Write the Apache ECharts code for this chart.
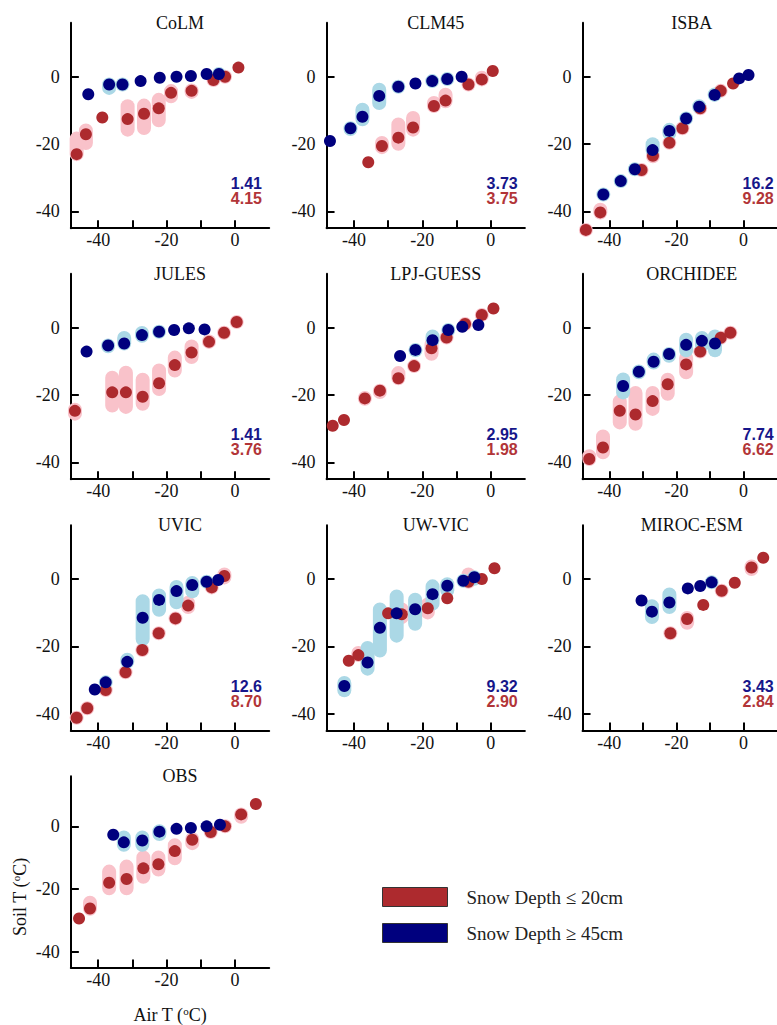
<!DOCTYPE html>
<html>
<head>
<meta charset="utf-8">
<script src="https://cdn.jsdelivr.net/npm/echarts@6/dist/echarts.min.js"></script>
<style>
    html, body { margin: 0; padding: 0; background: #fff; }
    #chart { width: 777px; height: 1025px; }
</style>
</head>
<body>
<div id="chart"></div>
<script>
const panelNames = ['CoLM', 'CLM45', 'ISBA', 'JULES', 'LPJ-GUESS', 'ORCHIDEE', 'UVIC', 'UW-VIC', 'MIROC-ESM', 'OBS']
const deepScore = [1.41, 3.73, 16.2, 1.41, 2.95, 7.74, 12.6, 9.32, 3.43]
const shallowScore = [4.15, 3.75, 9.28, 3.76, 1.98, 6.62, 8.70, 2.90, 2.84]
const xTicks = [-40, -30, -20, -10, 0]
const xLabels = [-40, -20, 0]
const yTicks = [-40, -20, 0]
const seriesNames = ['Snow Depth ≤ 20cm', 'Snow Depth ≥ 45cm']

// [air T, soil T, spread low, spread high] -- two values only when there is no spread drawn
const colmShallow = [[-46.3, -23.0, -24.8, -16.3], [-43.6, -17.1, -21.8, -13.9], [-38.8, -12.1], [-31.4, -12.6, -17.8, -6.7], [-26.6, -11.0, -17.3, -6.5], [-22.3, -9.4, -15.0, -4.8], [-18.7, -4.8, -7.9, -2.2], [-12.7, -4.2, -6.6, -2.0], [-6.3, -1.0, -1.0, -1.0], [-2.9, 0.0, 0.0, 0.0], [1.0, 2.7]]
const colmDeep = [[-42.9, -5.2], [-36.8, -2.3, -5.4, -1.0], [-32.9, -2.3, -4.0, -0.5], [-27.6, -1.3], [-22.0, -0.3], [-17.1, 0.0], [-12.9, 0.2], [-8.3, 0.8], [-4.7, 0.8, 0.8, 0.8]]

const clm45Shallow = [[-35.8, -25.4], [-31.8, -20.6, -23.0, -17.6], [-27.0, -18.1, -22.0, -12.1], [-22.7, -15.1, -17.8, -10.2], [-16.6, -8.7, -10.6, -5.7], [-13.2, -7.1, -9.4, -3.3], [-6.5, -2.3, -2.3, -2.3], [-2.6, -0.8, -2.7, 1.8], [0.6, 1.7]]
const clm45Deep = [[-47.0, -19.1], [-41.0, -15.3, -17.6, -13.7], [-37.5, -11.9, -14.7, -7.7], [-32.6, -5.7, -9.9, -1.8], [-27.0, -3.0, -3.0, -3.0], [-22.0, -2.0], [-17.1, -1.3, -1.3, -1.3], [-12.7, -0.7, -0.7, -0.7], [-8.5, 0.0]]

const isbaShallow = [[-47.0, -45.5, -45.5, -45.5], [-42.7, -40.3, -42.4, -37.4], [-30.4, -27.7, -27.7, -27.7], [-27.0, -23.5, -25.7, -21.5], [-22.1, -19.6, -19.6, -19.6], [-18.2, -15.3, -15.3, -15.3], [-12.9, -9.4, -9.4, -9.4], [-6.8, -4.2, -4.2, -4.2], [-3.1, -2.0]]
const isbaDeep = [[-41.8, -35.0, -37.1, -33.0], [-36.6, -31.0, -31.0, -31.0], [-32.4, -27.5, -27.5, -27.5], [-27.1, -21.8, -24.0, -18.0], [-22.1, -16.1, -18.8, -13.7], [-17.1, -12.4, -12.4, -12.4], [-13.2, -8.9, -11.1, -6.7], [-8.6, -5.4, -7.1, -3.2], [-1.3, -0.5], [1.5, 0.5]]

const julesShallow = [[-46.8, -24.7, -27.6, -22.3], [-35.9, -19.2, -25.2, -12.8], [-31.9, -19.2, -25.6, -11.3], [-27.0, -20.5, -24.7, -13.4], [-22.2, -16.5, -20.3, -10.6], [-17.6, -11.1, -14.8, -6.8], [-12.7, -7.4, -10.8, -3.5], [-7.6, -4.2, -6.3, -2.0], [-3.2, -1.5, -1.5, -1.5], [0.5, 1.7, 1.7, 1.7]]
const julesDeep = [[-43.4, -7.1], [-37.1, -5.3, -7.6, -3.5], [-32.4, -4.7, -6.4, -1.0], [-27.2, -2.2, -4.5, 0.5], [-22.2, -1.2, -1.2, -1.2], [-17.8, -0.7], [-13.5, -0.2], [-8.9, -0.5]]

const lpjShallow = [[-46.2, -29.1], [-42.9, -27.4], [-36.8, -21.0, -23.2, -18.8], [-32.4, -18.7, -21.2, -16.8], [-27.0, -15.0, -16.7, -11.4], [-22.4, -11.4, -13.4, -9.9], [-17.3, -6.1, -9.8, -2.9], [-12.9, -2.9, -5.0, -1.2], [-7.5, 1.1, 1.1, 1.1], [-2.6, 3.8, 3.8, 3.8], [0.8, 5.7]]
const lpjDeep = [[-26.5, -8.4], [-22.0, -6.6, -8.8, -5.0], [-17.0, -3.7, -5.3, -0.5], [-12.4, -0.7, -0.7, -0.7], [-8.3, 0.3], [-3.6, 0.8]]

const orchideeShallow = [[-46.0, -39.0, -40.6, -36.1], [-41.9, -35.6, -39.1, -30.2], [-36.9, -24.7, -30.2, -19.8], [-32.2, -25.8, -30.6, -17.3], [-27.1, -21.8, -26.2, -17.3], [-22.6, -16.8, -21.7, -13.4], [-17.1, -10.9, -15.3, -6.9], [-12.9, -7.1, -9.0, -5.2], [-6.8, -3.0, -3.0, -3.0], [-3.9, -1.5, -1.5, -1.5]]
const orchideeDeep = [[-35.9, -17.3, -21.3, -13.3], [-31.2, -13.1, -15.3, -10.9], [-26.8, -10.1, -12.4, -7.4], [-22.2, -7.8, -10.4, -5.9], [-17.1, -5.1, -8.8, -1.5], [-12.4, -3.9, -7.4, -1.0], [-8.5, -4.7, -8.8, -0.5]]

const uvicShallow = [[-46.3, -41.2, -41.2, -41.2], [-43.2, -38.4, -38.4, -38.4], [-37.8, -33.0, -33.0, -33.0], [-32.0, -27.7, -27.7, -27.7], [-27.1, -21.1, -21.1, -21.1], [-22.3, -16.1, -16.1, -16.1], [-17.4, -11.7, -11.7, -11.7], [-13.7, -7.9, -10.4, -5.0], [-6.8, -2.5, -2.5, -2.5], [-3.1, 0.9, -1.6, 3.4]]
const uvicDeep = [[-41.0, -32.8], [-37.8, -30.7, -30.7, -30.7], [-31.5, -24.6, -26.5, -21.9], [-27.0, -11.5, -19.9, -4.5], [-22.2, -6.2, -11.2, -2.8], [-17.1, -3.6, -9.0, -0.3], [-12.5, -1.8, -5.7, 0.9], [-8.3, -0.8, -0.8, -0.8], [-4.9, -0.3]]

const uwvicShallow = [[-41.5, -24.3], [-38.7, -22.6, -24.3, -19.9], [-30.0, -10.2], [-26.0, -10.5, -13.4, -7.0], [-18.4, -8.7, -12.0, -5.5], [-12.7, -5.7], [-6.5, -0.8, -2.5, 3.4], [-2.6, 0.0], [1.1, 3.2]]
const uwvicDeep = [[-42.8, -31.8, -35.1, -28.8], [-36.0, -24.8, -28.7, -18.4], [-32.4, -14.5, -23.3, -7.0], [-27.5, -10.2, -18.9, -3.1], [-22.1, -9.0, -15.4, -4.1], [-17.0, -4.5, -9.4, -0.1], [-12.7, -2.0, -5.4, 0.5], [-8.0, -0.5, -0.5, -0.5], [-4.8, 0.5, -2.0, 2.5]]

const mirocShallow = [[-21.8, -16.1, -16.1, -16.1], [-16.8, -11.9, -15.1, -9.5], [-12.0, -7.7], [-6.5, -3.5, -3.5, -3.5], [-2.6, -1.1], [2.4, 3.4, 0.9, 5.8], [5.9, 6.3]]
const mirocDeep = [[-30.4, -6.4], [-27.3, -9.7, -13.4, -6.0], [-22.1, -7.0, -10.4, -2.5], [-16.6, -2.8], [-12.9, -2.1], [-9.5, -1.0, -2.8, 0.9]]

const obsShallow = [[-45.6, -29.4], [-42.4, -26.2, -28.5, -22.1], [-36.8, -18.0, -22.0, -12.2], [-31.7, -16.8, -22.0, -10.6], [-26.8, -13.4, -18.3, -7.7], [-22.4, -12.1, -16.0, -7.7], [-17.6, -7.9, -12.4, -3.8], [-12.5, -4.3, -7.6, -1.8], [-7.1, -1.8, -1.8, -1.8], [-2.9, 0.0, 0.0, 0.0], [1.8, 3.8, 0.8, 5.9], [6.1, 7.1]]
const obsDeep = [[-35.6, -2.7], [-32.5, -5.1, -8.1, -1.3], [-27.1, -4.5, -8.1, -1.3], [-22.1, -1.7, -4.7, 0.7], [-17.1, -0.8], [-12.9, -0.5], [-8.3, 0.0], [-4.4, 0.5]]

const shallowData = [colmShallow, clm45Shallow, isbaShallow, julesShallow, lpjShallow, orchideeShallow, uvicShallow, uwvicShallow, mirocShallow, obsShallow]
const deepData = [colmDeep, clm45Deep, isbaDeep, julesDeep, lpjDeep, orchideeDeep, uvicDeep, uwvicDeep, mirocDeep, obsDeep]

// layout: pixel of (air T = 0) per column and (soil T = 0) per row
const colX0 = [235, 490.7, 746.7]
const rowY0 = [76.7, 327.7, 579, 830]
const pxPerX = 3.42
const pxPerY = 3.367
const xMin = -48, xMax = 10, yMin = -45, yMax = 16

const serif = 'Liberation Serif'
const redDot = '#AD2A2E'
const blueDot = '#00007E'
const redBand = '#F9C2CA'
const blueBand = '#ABD8E6'
const bandWidth = 14

function bandRenderer (color) {
    return function (params, api) {
        let x = api.value(0)
        let center = api.coord([x, api.value(1)])
        let top = api.coord([x, api.value(3)])[1]
        let bottom = api.coord([x, api.value(2)])[1]
        top = Math.min(top, center[1] - bandWidth / 2)
        bottom = Math.max(bottom, center[1] + bandWidth / 2)
        return {
            type: 'rect',
            shape: { x: center[0] - bandWidth / 2, y: top, width: bandWidth, height: bottom - top, r: bandWidth / 2 },
            style: { fill: color }
        }
    }
}

let grids = [], xAxes = [], yAxes = [], series = [], titles = []

panelNames.forEach(function (name, i) {
    let x0 = colX0[i % 3]
    let y0 = rowY0[Math.floor(i / 3)]
    let isObs = name === 'OBS'

    grids.push({
        left: x0 + xMin * pxPerX,
        top: y0 - yMax * pxPerY,
        width: (xMax - xMin) * pxPerX,
        height: (yMax - yMin) * pxPerY
    })

    xAxes.push({
        type: 'value',
        gridIndex: i,
        min: xMin,
        max: xMax,
        name: isObs ? 'Air T ({sup|o}C)' : '',
        nameLocation: 'middle',
        nameGap: 38,
        nameTextStyle: {
            fontFamily: serif, fontSize: 18, color: '#111',
            rich: { sup: { fontFamily: serif, fontSize: 11, color: '#111', padding: [0, 0, 8, 0] } }
        },
        axisLine: { onZero: false, lineStyle: { color: '#000', width: 2 } },
        axisTick: { inside: true, length: 8, customValues: xTicks, lineStyle: { color: '#000', width: 2 } },
        axisLabel: { customValues: xLabels, margin: 3, fontFamily: serif, fontSize: 18, color: '#111' },
        splitLine: { show: false }
    })

    yAxes.push({
        type: 'value',
        gridIndex: i,
        min: yMin,
        max: yMax,
        axisLine: { onZero: false, lineStyle: { color: '#000', width: 2 } },
        axisTick: { inside: true, length: 8, customValues: yTicks, lineStyle: { color: '#000', width: 2 } },
        axisLabel: { customValues: yTicks, margin: 11, fontFamily: serif, fontSize: 18, color: '#111' },
        splitLine: { show: false }
    })

    titles.push({
        text: name,
        left: x0 - 55,
        top: y0 - 54,
        padding: 0,
        textAlign: 'center',
        textVerticalAlign: 'middle',
        textStyle: { fontFamily: serif, fontSize: 18, fontWeight: 'normal', color: '#111' }
    })

    if (i < deepScore.length) {
        titles.push({
            text: deepScore[i].toPrecision(3),
            left: x0 + 27, top: y0 + 107, padding: 0,
            textAlign: 'right', textVerticalAlign: 'middle',
            textStyle: { fontFamily: 'Liberation Sans', fontSize: 16, fontWeight: 'bold', color: '#16168A' }
        })
        titles.push({
            text: shallowScore[i].toPrecision(3),
            left: x0 + 27, top: y0 + 122, padding: 0,
            textAlign: 'right', textVerticalAlign: 'middle',
            textStyle: { fontFamily: 'Liberation Sans', fontSize: 16, fontWeight: 'bold', color: '#B23538' }
        })
    }

    let shallow = shallowData[i]
    let deep = deepData[i]

    series.push({
        type: 'custom', name: 'shallow spread', xAxisIndex: i, yAxisIndex: i, silent: true,
        encode: { x: 0, y: 1 },
        data: shallow.filter(function (p) { return p.length > 2 }),
        renderItem: bandRenderer(redBand)
    })
    series.push({
        type: 'scatter', name: seriesNames[0], xAxisIndex: i, yAxisIndex: i, clip: false,
        symbolSize: 12, itemStyle: { color: redDot, opacity: 1 },
        data: shallow.map(function (p) { return [p[0], p[1]] })
    })
    series.push({
        type: 'custom', name: 'deep spread', xAxisIndex: i, yAxisIndex: i, silent: true,
        encode: { x: 0, y: 1 },
        data: deep.filter(function (p) { return p.length > 2 }),
        renderItem: bandRenderer(blueBand)
    })
    series.push({
        type: 'scatter', name: seriesNames[1], xAxisIndex: i, yAxisIndex: i, clip: false,
        symbolSize: 12, itemStyle: { color: blueDot, opacity: 1 },
        data: deep.map(function (p) { return [p[0], p[1]] })
    })
})

let chart = echarts.init(document.getElementById('chart'), null, { renderer: 'svg' })
chart.setOption({
    animation: false,
    title: titles,
    grid: grids,
    xAxis: xAxes,
    yAxis: yAxes,
    legend: {
        data: seriesNames,
        orient: 'vertical',
        left: 382,
        top: 887,
        padding: 0,
        icon: 'rect',
        itemWidth: 65,
        itemHeight: 19,
        itemGap: 16,
        selectedMode: false,
        itemStyle: { borderColor: '#333', borderWidth: 1 },
        textStyle: { fontFamily: serif, fontSize: 19, color: '#222', padding: [0, 0, 0, 14] }
    },
    graphic: [{
        type: 'text',
        x: 20,
        y: 897,
        rotation: Math.PI / 2,
        style: {
            text: 'Soil T ({sup|o}C)',
            fontFamily: serif,
            fontSize: 18,
            fill: '#111',
            align: 'center',
            verticalAlign: 'middle',
            rich: { sup: { fontFamily: serif, fontSize: 11, fill: '#111', padding: [0, 0, 8, 0] } }
        }
    }],
    series: series
})
</script>
</body>
</html>
